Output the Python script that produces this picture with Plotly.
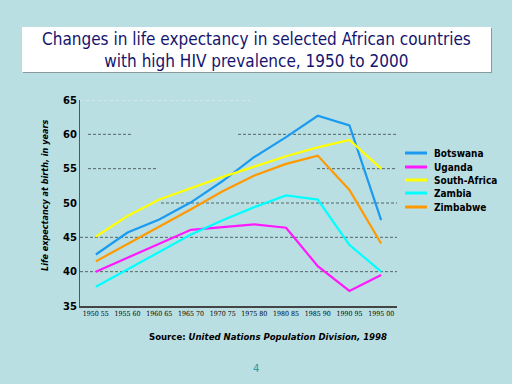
import plotly.graph_objects as go

categories = ["1950 55", "1955 60", "1960 65", "1965 70", "1970 75",
              "1975 80", "1980 85", "1985 90", "1990 95", "1995 00"]
botswana = [42.5, 45.7, 47.6, 50.1, 53.2, 56.7, 59.6, 62.7, 61.3, 47.5]
uganda = [40.0, 42.0, 44.1, 46.1, 46.5, 46.9, 46.4, 40.8, 37.2, 39.5]
south_africa = [45.1, 48.1, 50.5, 52.2, 53.8, 55.3, 56.8, 58.1, 59.2, 55.0]
zambia = [37.8, 40.3, 42.9, 45.4, 47.5, 49.4, 51.1, 50.5, 43.9, 40.0]
zimbabwe = [41.5, 44.0, 46.6, 49.1, 51.7, 54.0, 55.7, 56.9, 51.9, 44.1]
y_ticks = [35, 40, 45, 50, 55, 60, 65]

series = [
    ("Botswana", botswana, "#1a9af0"),
    ("Uganda", uganda, "#ff19ff"),
    ("South-Africa", south_africa, "#ffff00"),
    ("Zambia", zambia, "#00ffff"),
    ("Zimbabwe", zimbabwe, "#ff9900"),
]

W, H = 512, 384
L, R, T, B = 80, 397, 100, 306


def px(x):
    return (x - L) / (R - L)


def py(y):
    return (B - y) / (B - T)


fig = go.Figure()
for name, vals, col in series:
    fig.add_trace(go.Scatter(x=categories, y=vals, name=name, mode="lines",
                             line=dict(color=col, width=2.2), showlegend=False))

bg = "#badfe3"
fig.update_layout(
    width=W, height=H,
    margin=dict(l=L, r=W - R, t=T, b=H - B, pad=0, autoexpand=False),
    paper_bgcolor=bg, plot_bgcolor=bg,
    showlegend=False,
    xaxis=dict(type="category", range=[-0.5, 9.5], showgrid=False,
               showline=True, linecolor="#444444", linewidth=2,
               ticks="", tickangle=0, automargin=False,
               tickfont=dict(family="DejaVu Serif Condensed", size=7, color="black"),
               fixedrange=True),
    yaxis=dict(range=[35, 65], tickvals=y_ticks, showgrid=False,
               showline=True, linecolor="#555555", linewidth=1,
               ticks="", zeroline=False, automargin=False,
               tickfont=dict(family="DejaVu Sans", size=10, color="black", weight="bold"),
               fixedrange=True),
    font=dict(family="DejaVu Sans"),
)

# fragmented dashed gridlines (value, [(x0px, x1px), ...])
grid_segments = [
    (40, [(80, 397)]),
    (45, [(80, 397)]),
    (50, [(161, 397)]),
    (55, [(88, 158), (317, 397)]),
    (60, [(88, 132), (238, 397)]),
]
for val, segs in grid_segments:
    for a, b in segs:
        fig.add_shape(type="line", xref="paper", yref="y", x0=px(a), x1=px(b),
                      y0=val, y1=val, layer="below",
                      line=dict(color="#556565", width=1, dash="3px,2px"))
fig.add_shape(type="line", xref="paper", yref="y", x0=px(80), x1=px(250),
              y0=65, y1=65, layer="below",
              line=dict(color="#e8f6f4", width=1, dash="dot"))

# manual legend
leg_y = [153, 167, 180, 193, 207]
for (name, vals, col), yy in zip(series, leg_y):
    fig.add_shape(type="line", xref="paper", yref="paper", x0=px(405), x1=px(427),
                  y0=py(yy), y1=py(yy), line=dict(color=col, width=3))
    fig.add_annotation(xref="paper", yref="paper", x=px(432), y=py(yy),
                       text=name, showarrow=False, xanchor="left", yanchor="middle",
                       font=dict(family="DejaVu Sans Condensed", size=10,
                                 color="black", weight="bold"))

# title box
fig.add_shape(type="rect", xref="paper", yref="paper",
              x0=px(23), x1=px(492), y0=py(73), y1=py(28),
              fillcolor="#8a9a9c", line=dict(width=0), layer="below")
fig.add_shape(type="rect", xref="paper", yref="paper",
              x0=px(22), x1=px(491), y0=py(72), y1=py(27),
              fillcolor="white", line=dict(width=0), layer="below")
fig.add_annotation(xref="paper", yref="paper", x=px(256), y=py(50),
                   text="Changes in life expectancy in selected African countries<br>with high HIV prevalence, 1950 to 2000",
                   showarrow=False, xanchor="center", yanchor="middle",
                   font=dict(family="DejaVu Sans Condensed", size=17, color="#14146e"))

fig.add_annotation(xref="paper", yref="paper", x=px(45), y=py(196),
                   text="<i>Life expectancy at birth, in years</i>", textangle=-90,
                   showarrow=False, xanchor="center", yanchor="middle",
                   font=dict(family="DejaVu Sans Condensed", size=9, color="black", weight="bold"))

fig.add_annotation(xref="paper", yref="paper", x=px(268), y=py(336),
                   text="Source: <i>United Nations Population Division, 1998</i>",
                   showarrow=False, xanchor="center", yanchor="middle",
                   font=dict(family="DejaVu Sans Condensed", size=9.5, color="black", weight="bold"))

fig.add_annotation(xref="paper", yref="paper", x=px(256), y=py(368),
                   text="4", showarrow=False, xanchor="center", yanchor="middle",
                   font=dict(family="DejaVu Sans", size=10, color="#2a9a9a"))

fig.write_html("out.html", config={"displayModeBar": False},
               post_script="document.body.style.margin='0';document.body.style.background='%s';" % bg)
